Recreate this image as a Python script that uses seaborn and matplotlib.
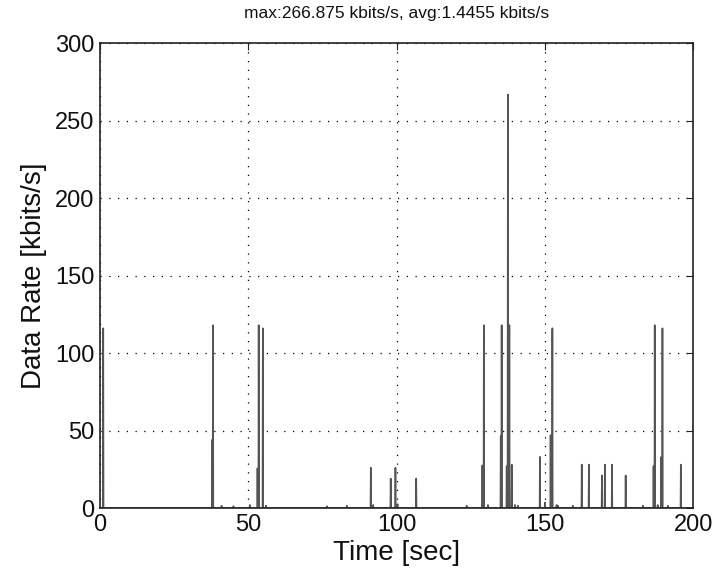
import numpy as np
import pandas as pd
import seaborn as sns
import matplotlib
matplotlib.use("Agg")
import matplotlib.pyplot as plt

# spike times [sec] and heights [kbits/s]
spike_t = [1.1, 37.8, 38.1, 53.1, 53.5, 54.9, 91.3, 98.0, 99.6, 106.6,
           128.9, 129.4, 135.1, 135.4, 137.1, 137.5, 138.0, 138.8, 148.3,
           150.0, 151.9, 152.5, 162.4, 164.8, 169.2, 170.2, 172.6, 177.2,
           186.6, 187.0, 189.2, 189.6, 195.8]
spike_v = [116, 44, 118, 25.6, 118, 116, 26, 19, 26, 19,
           27.5, 118, 46.6, 118, 27, 266.875, 118, 28, 33,
           3.5, 47, 116, 28, 28, 21, 28, 28, 21,
           27, 118, 33, 116, 28]

# small background traffic blips
blip_t = [41.0, 45.0, 50.5, 56.0, 76.5, 83.2, 92.1, 100.3, 123.6, 130.8,
          139.9, 140.9, 153.9, 154.4, 159.4, 183.0, 188.0, 191.4]
blip_v = [1.5, 1.2, 2.0, 1.5, 1.2, 1.5, 2.0, 2.5, 1.5, 2.0,
          2.0, 1.5, 2.0, 1.5, 1.5, 1.5, 2.0, 1.5]

x_ticks = [0, 50, 100, 150, 200]
y_ticks = [0, 50, 100, 150, 200, 250, 300]
title = "max:266.875 kbits/s, avg:1.4455 kbits/s"

# build a spiky trace: each event is one sample wide
dt = 0.1
events = sorted(zip(spike_t + blip_t, spike_v + blip_v))
t_pts, v_pts = [0.0], [0.0]
for t, v in events:
    t_pts += [t - dt, t, t + dt]
    v_pts += [0.0, v, 0.0]
t_pts.append(200.0)
v_pts.append(0.0)
df = pd.DataFrame({"time": t_pts, "rate": v_pts})

sns.set_style("white")
plt.rcParams["font.family"] = ["Liberation Sans", "DejaVu Sans"]

fig = plt.figure(figsize=(7.14, 5.76), dpi=100)
ax = fig.add_axes([0.14, 0.118, 0.831, 0.807])

sns.lineplot(data=df, x="time", y="rate", ax=ax, color="#555555",
             linewidth=1.2, estimator=None, sort=False)

ax.set_xlim(0, 200)
ax.set_ylim(0, 300)
ax.set_xticks(x_ticks)
ax.set_yticks(y_ticks)
ax.tick_params(labelsize=17, direction="in", length=5, top=True, right=True,
               color="#222222", labelcolor="#111111", pad=4)
ax.grid(True, color="black", linestyle=(0, (1, 6)), linewidth=0.9)
for s in ax.spines.values():
    s.set_color("#222222")
    s.set_linewidth(1.2)

ax.set_xlabel("Time [sec]", fontsize=20, labelpad=3, color="#111111")
ax.set_ylabel("Data Rate [kbits/s]", fontsize=20, labelpad=6, color="#111111")
ax.set_title(title, fontsize=12.5, color="#111111", pad=18)

fig.savefig("out.png", dpi=100)
